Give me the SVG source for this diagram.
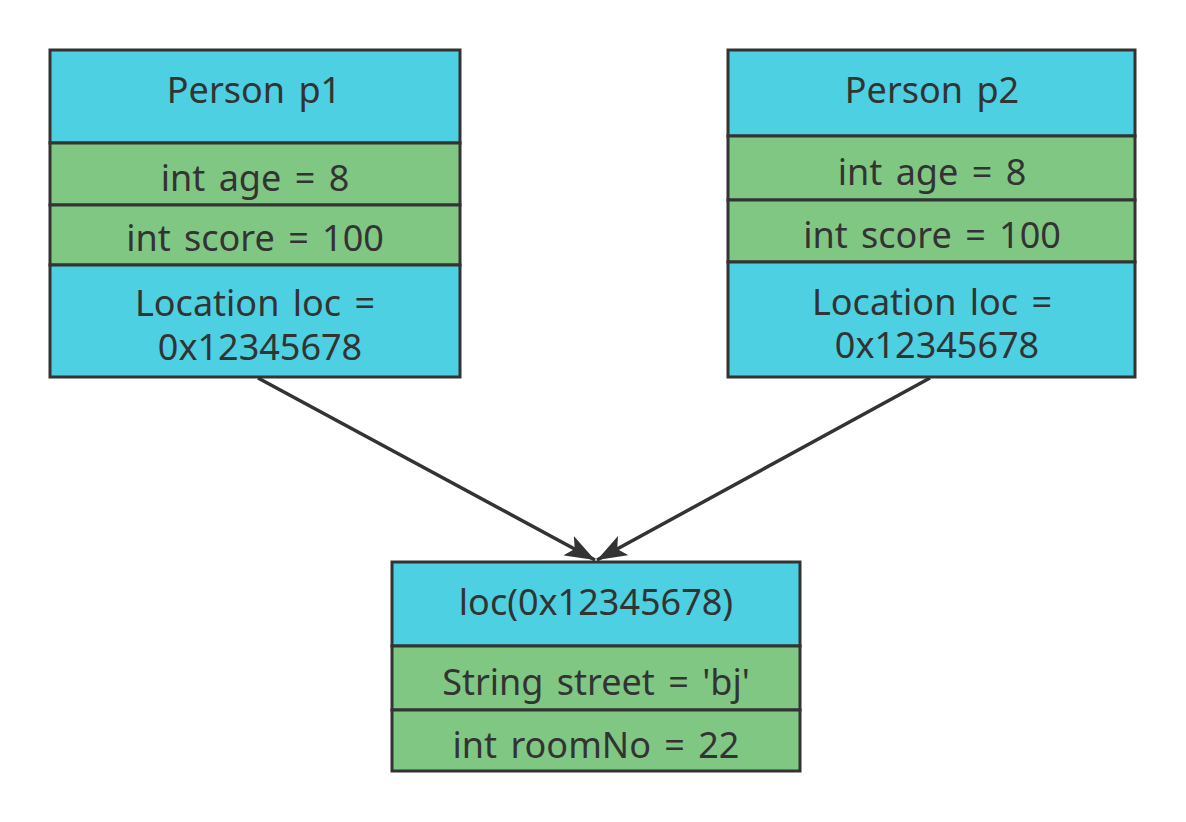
<svg xmlns="http://www.w3.org/2000/svg" width="1186" height="822" viewBox="0 0 1186 822">
<style>
.c{fill:#4DD0E1;stroke:#333;stroke-width:3}
.g{fill:#81C784;stroke:#333;stroke-width:3}
text{font-family:"Noto Sans","Open Sans","DejaVu Sans",sans-serif;font-size:36px;fill:#333;text-anchor:middle;word-spacing:4px}
.ln{stroke:#333;stroke-width:3.5;fill:none}
</style>
<defs>
<marker id="arr" markerUnits="userSpaceOnUse" viewBox="0 0 30 22" refX="30" refY="11" markerWidth="30" markerHeight="22" orient="auto">
<path d="M0,0 L30,11 L0,22 L7,11 Z" fill="#333"/>
</marker>
</defs>
<rect width="1186" height="822" fill="#fff"/>
<g id="connectors">
<line class="ln" x1="258" y1="378" x2="595" y2="560" marker-end="url(#arr)"/>
<line class="ln" x1="930" y1="378" x2="597" y2="560" marker-end="url(#arr)"/>
</g>
<g id="p1">
<rect class="c" x="50" y="50" width="410" height="93"/>
<rect class="g" x="50" y="143" width="410" height="62"/>
<rect class="g" x="50" y="205" width="410" height="60"/>
<rect class="c" x="50" y="265" width="410" height="112"/>
<text x="254" y="103">Person p1</text>
<text x="255" y="191">int age = 8</text>
<text x="255" y="251">int score = 100</text>
<text x="255" y="316">Location loc =<tspan x="260" y="360">0x12345678</tspan></text>
</g>
<g id="p2">
<rect class="c" x="728" y="50" width="407" height="86"/>
<rect class="g" x="728" y="136" width="407" height="64"/>
<rect class="g" x="728" y="200" width="407" height="62"/>
<rect class="c" x="728" y="262" width="407" height="115"/>
<text x="932" y="103">Person p2</text>
<text x="932" y="185">int age = 8</text>
<text x="932" y="248">int score = 100</text>
<text x="932" y="315">Location loc =<tspan x="937" y="358">0x12345678</tspan></text>
</g>
<g id="loc">
<rect class="c" x="392" y="562" width="408" height="84"/>
<rect class="g" x="392" y="646" width="408" height="64"/>
<rect class="g" x="392" y="710" width="408" height="61"/>
<text x="596" y="615">loc(0x12345678)</text>
<text x="596" y="695">String street = 'bj'</text>
<text x="596" y="758">int roomNo = 22</text>
</g>
</svg>
